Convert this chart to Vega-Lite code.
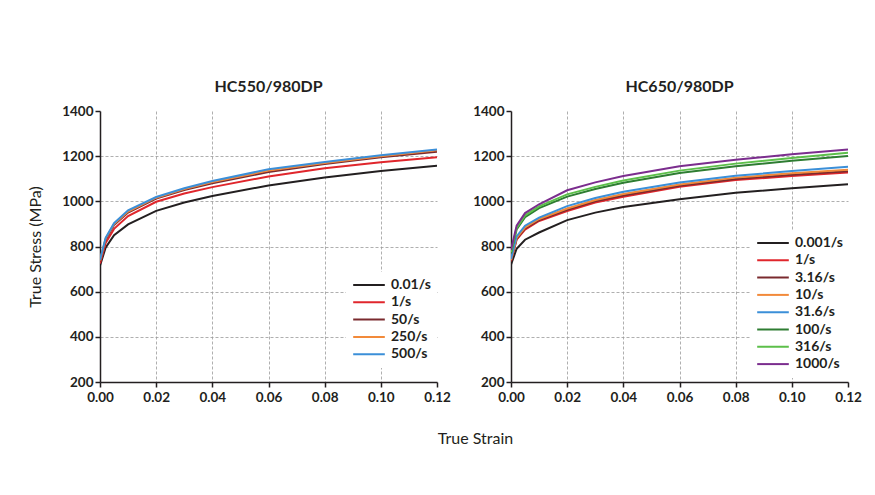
{
  "$schema": "https://vega.github.io/schema/vega-lite/v6.json",
  "background": "white",
  "padding": {"left": 27, "top": 79, "right": 20, "bottom": 10},
  "title": {"text": "True Strain", "orient": "bottom", "anchor": "middle", "font": "Lato", "fontSize": 16, "fontWeight": "normal", "color": "#231f20", "offset": 27, "dx": 31},
  "config": {
    "view": {"stroke": null},
    "axis": {"labelFont": "Lato", "labelFontWeight": "bold", "labelFontSize": 13.5, "labelColor": "#231f20", "labelFlush": false, "domainColor": "#231f20", "domainWidth": 1.5, "tickColor": "#231f20", "tickWidth": 1.5, "tickSize": 5, "gridColor": "#9a9a9a", "gridDash": [3, 2], "gridWidth": 0.8, "titleFont": "Lato", "titleFontWeight": "normal", "titleFontSize": 16, "titleColor": "#231f20"},
    "legend": {"labelFont": "Lato", "labelFontWeight": "bold", "labelFontSize": 14, "labelColor": "#231f20", "symbolType": "stroke", "symbolSize": 1000, "symbolStrokeWidth": 2, "clipHeight": 14, "rowPadding": 3.3, "labelOffset": 5, "padding": 6, "fillColor": "white", "title": null},
    "title": {"font": "Lato", "fontSize": 16, "fontWeight": "bold", "color": "#231f20", "offset": 9},
    "concat": {"spacing": 21}
  },
  "data": {"values": [
    {"p": "L", "r": "0.01/s", "s": 0, "v": 715}, {"p": "L", "r": "0.01/s", "s": 0.002, "v": 795}, {"p": "L", "r": "0.01/s", "s": 0.005, "v": 850}, {"p": "L", "r": "0.01/s", "s": 0.01, "v": 898}, {"p": "L", "r": "0.01/s", "s": 0.02, "v": 958}, {"p": "L", "r": "0.01/s", "s": 0.03, "v": 995}, {"p": "L", "r": "0.01/s", "s": 0.04, "v": 1024}, {"p": "L", "r": "0.01/s", "s": 0.06, "v": 1070}, {"p": "L", "r": "0.01/s", "s": 0.08, "v": 1106}, {"p": "L", "r": "0.01/s", "s": 0.10, "v": 1134}, {"p": "L", "r": "0.01/s", "s": 0.12, "v": 1158},
    {"p": "L", "r": "1/s", "s": 0, "v": 725}, {"p": "L", "r": "1/s", "s": 0.002, "v": 815}, {"p": "L", "r": "1/s", "s": 0.005, "v": 878}, {"p": "L", "r": "1/s", "s": 0.01, "v": 935}, {"p": "L", "r": "1/s", "s": 0.02, "v": 998}, {"p": "L", "r": "1/s", "s": 0.03, "v": 1035}, {"p": "L", "r": "1/s", "s": 0.04, "v": 1063}, {"p": "L", "r": "1/s", "s": 0.06, "v": 1110}, {"p": "L", "r": "1/s", "s": 0.08, "v": 1146}, {"p": "L", "r": "1/s", "s": 0.10, "v": 1173}, {"p": "L", "r": "1/s", "s": 0.12, "v": 1195},
    {"p": "L", "r": "50/s", "s": 0, "v": 735}, {"p": "L", "r": "50/s", "s": 0.002, "v": 830}, {"p": "L", "r": "50/s", "s": 0.005, "v": 895}, {"p": "L", "r": "50/s", "s": 0.01, "v": 950}, {"p": "L", "r": "50/s", "s": 0.02, "v": 1012}, {"p": "L", "r": "50/s", "s": 0.03, "v": 1050}, {"p": "L", "r": "50/s", "s": 0.04, "v": 1080}, {"p": "L", "r": "50/s", "s": 0.06, "v": 1130}, {"p": "L", "r": "50/s", "s": 0.08, "v": 1165}, {"p": "L", "r": "50/s", "s": 0.10, "v": 1195}, {"p": "L", "r": "50/s", "s": 0.12, "v": 1220},
    {"p": "L", "r": "250/s", "s": 0, "v": 738}, {"p": "L", "r": "250/s", "s": 0.002, "v": 835}, {"p": "L", "r": "250/s", "s": 0.005, "v": 900}, {"p": "L", "r": "250/s", "s": 0.01, "v": 955}, {"p": "L", "r": "250/s", "s": 0.02, "v": 1016}, {"p": "L", "r": "250/s", "s": 0.03, "v": 1054}, {"p": "L", "r": "250/s", "s": 0.04, "v": 1085}, {"p": "L", "r": "250/s", "s": 0.06, "v": 1136}, {"p": "L", "r": "250/s", "s": 0.08, "v": 1170}, {"p": "L", "r": "250/s", "s": 0.10, "v": 1200}, {"p": "L", "r": "250/s", "s": 0.12, "v": 1226},
    {"p": "L", "r": "500/s", "s": 0, "v": 740}, {"p": "L", "r": "500/s", "s": 0.002, "v": 838}, {"p": "L", "r": "500/s", "s": 0.005, "v": 903}, {"p": "L", "r": "500/s", "s": 0.01, "v": 960}, {"p": "L", "r": "500/s", "s": 0.02, "v": 1019}, {"p": "L", "r": "500/s", "s": 0.03, "v": 1058}, {"p": "L", "r": "500/s", "s": 0.04, "v": 1090}, {"p": "L", "r": "500/s", "s": 0.06, "v": 1142}, {"p": "L", "r": "500/s", "s": 0.08, "v": 1174}, {"p": "L", "r": "500/s", "s": 0.10, "v": 1204}, {"p": "L", "r": "500/s", "s": 0.12, "v": 1230},
    {"p": "R", "r": "0.001/s", "s": 0, "v": 720}, {"p": "R", "r": "0.001/s", "s": 0.002, "v": 790}, {"p": "R", "r": "0.001/s", "s": 0.005, "v": 830}, {"p": "R", "r": "0.001/s", "s": 0.01, "v": 862}, {"p": "R", "r": "0.001/s", "s": 0.02, "v": 917}, {"p": "R", "r": "0.001/s", "s": 0.03, "v": 950}, {"p": "R", "r": "0.001/s", "s": 0.04, "v": 975}, {"p": "R", "r": "0.001/s", "s": 0.06, "v": 1009}, {"p": "R", "r": "0.001/s", "s": 0.08, "v": 1038}, {"p": "R", "r": "0.001/s", "s": 0.10, "v": 1058}, {"p": "R", "r": "0.001/s", "s": 0.12, "v": 1076},
    {"p": "R", "r": "1/s", "s": 0, "v": 735}, {"p": "R", "r": "1/s", "s": 0.002, "v": 830}, {"p": "R", "r": "1/s", "s": 0.005, "v": 875}, {"p": "R", "r": "1/s", "s": 0.01, "v": 913}, {"p": "R", "r": "1/s", "s": 0.02, "v": 957}, {"p": "R", "r": "1/s", "s": 0.03, "v": 995}, {"p": "R", "r": "1/s", "s": 0.04, "v": 1020}, {"p": "R", "r": "1/s", "s": 0.06, "v": 1064}, {"p": "R", "r": "1/s", "s": 0.08, "v": 1094}, {"p": "R", "r": "1/s", "s": 0.10, "v": 1112}, {"p": "R", "r": "1/s", "s": 0.12, "v": 1128},
    {"p": "R", "r": "3.16/s", "s": 0, "v": 738}, {"p": "R", "r": "3.16/s", "s": 0.002, "v": 834}, {"p": "R", "r": "3.16/s", "s": 0.005, "v": 880}, {"p": "R", "r": "3.16/s", "s": 0.01, "v": 917}, {"p": "R", "r": "3.16/s", "s": 0.02, "v": 962}, {"p": "R", "r": "3.16/s", "s": 0.03, "v": 1000}, {"p": "R", "r": "3.16/s", "s": 0.04, "v": 1026}, {"p": "R", "r": "3.16/s", "s": 0.06, "v": 1069}, {"p": "R", "r": "3.16/s", "s": 0.08, "v": 1099}, {"p": "R", "r": "3.16/s", "s": 0.10, "v": 1118}, {"p": "R", "r": "3.16/s", "s": 0.12, "v": 1133},
    {"p": "R", "r": "10/s", "s": 0, "v": 740}, {"p": "R", "r": "10/s", "s": 0.002, "v": 838}, {"p": "R", "r": "10/s", "s": 0.005, "v": 885}, {"p": "R", "r": "10/s", "s": 0.01, "v": 922}, {"p": "R", "r": "10/s", "s": 0.02, "v": 968}, {"p": "R", "r": "10/s", "s": 0.03, "v": 1006}, {"p": "R", "r": "10/s", "s": 0.04, "v": 1032}, {"p": "R", "r": "10/s", "s": 0.06, "v": 1075}, {"p": "R", "r": "10/s", "s": 0.08, "v": 1105}, {"p": "R", "r": "10/s", "s": 0.10, "v": 1124}, {"p": "R", "r": "10/s", "s": 0.12, "v": 1140},
    {"p": "R", "r": "31.6/s", "s": 0, "v": 745}, {"p": "R", "r": "31.6/s", "s": 0.002, "v": 845}, {"p": "R", "r": "31.6/s", "s": 0.005, "v": 892}, {"p": "R", "r": "31.6/s", "s": 0.01, "v": 928}, {"p": "R", "r": "31.6/s", "s": 0.02, "v": 979}, {"p": "R", "r": "31.6/s", "s": 0.03, "v": 1015}, {"p": "R", "r": "31.6/s", "s": 0.04, "v": 1042}, {"p": "R", "r": "31.6/s", "s": 0.06, "v": 1083}, {"p": "R", "r": "31.6/s", "s": 0.08, "v": 1113}, {"p": "R", "r": "31.6/s", "s": 0.10, "v": 1134}, {"p": "R", "r": "31.6/s", "s": 0.12, "v": 1153},
    {"p": "R", "r": "100/s", "s": 0, "v": 770}, {"p": "R", "r": "100/s", "s": 0.002, "v": 875}, {"p": "R", "r": "100/s", "s": 0.005, "v": 930}, {"p": "R", "r": "100/s", "s": 0.01, "v": 970}, {"p": "R", "r": "100/s", "s": 0.02, "v": 1021}, {"p": "R", "r": "100/s", "s": 0.03, "v": 1055}, {"p": "R", "r": "100/s", "s": 0.04, "v": 1082}, {"p": "R", "r": "100/s", "s": 0.06, "v": 1125}, {"p": "R", "r": "100/s", "s": 0.08, "v": 1155}, {"p": "R", "r": "100/s", "s": 0.10, "v": 1180}, {"p": "R", "r": "100/s", "s": 0.12, "v": 1201},
    {"p": "R", "r": "316/s", "s": 0, "v": 775}, {"p": "R", "r": "316/s", "s": 0.002, "v": 882}, {"p": "R", "r": "316/s", "s": 0.005, "v": 938}, {"p": "R", "r": "316/s", "s": 0.01, "v": 978}, {"p": "R", "r": "316/s", "s": 0.02, "v": 1031}, {"p": "R", "r": "316/s", "s": 0.03, "v": 1064}, {"p": "R", "r": "316/s", "s": 0.04, "v": 1092}, {"p": "R", "r": "316/s", "s": 0.06, "v": 1136}, {"p": "R", "r": "316/s", "s": 0.08, "v": 1167}, {"p": "R", "r": "316/s", "s": 0.10, "v": 1192}, {"p": "R", "r": "316/s", "s": 0.12, "v": 1215},
    {"p": "R", "r": "1000/s", "s": 0, "v": 785}, {"p": "R", "r": "1000/s", "s": 0.002, "v": 892}, {"p": "R", "r": "1000/s", "s": 0.005, "v": 948}, {"p": "R", "r": "1000/s", "s": 0.01, "v": 987}, {"p": "R", "r": "1000/s", "s": 0.02, "v": 1049}, {"p": "R", "r": "1000/s", "s": 0.03, "v": 1084}, {"p": "R", "r": "1000/s", "s": 0.04, "v": 1112}, {"p": "R", "r": "1000/s", "s": 0.06, "v": 1155}, {"p": "R", "r": "1000/s", "s": 0.08, "v": 1184}, {"p": "R", "r": "1000/s", "s": 0.10, "v": 1208}, {"p": "R", "r": "1000/s", "s": 0.12, "v": 1230}
  ]},
  "resolve": {"scale": {"color": "independent"}, "legend": {"color": "independent"}},
  "hconcat": [
    {
      "title": "HC550/980DP",
      "width": 337, "height": 271,
      "transform": [{"filter": "datum.p == 'L'"}],
      "mark": {"type": "line", "strokeWidth": 2, "clip": true},
      "encoding": {
        "x": {"field": "s", "type": "quantitative", "scale": {"domain": [0, 0.12], "nice": false}, "axis": {"title": null, "values": [0, 0.02, 0.04, 0.06, 0.08, 0.1, 0.12], "format": ".2f", "labelPadding": 3, "gridOpacity": {"condition": {"test": "datum.value == 0 || datum.value >= 0.12", "value": 0}, "value": 1}}},
        "y": {"field": "v", "type": "quantitative", "scale": {"domain": [200, 1400], "nice": false}, "axis": {"title": "True Stress (MPa)", "values": [200, 400, 600, 800, 1000, 1200, 1400], "format": "d", "titlePadding": 18, "gridOpacity": {"condition": {"test": "datum.value == 200 || datum.value >= 1400", "value": 0}, "value": 1}}},
        "color": {"field": "r", "type": "nominal", "scale": {"domain": ["0.01/s", "1/s", "50/s", "250/s", "500/s"], "range": ["#231f20", "#e0262c", "#7a2a2e", "#f28a3a", "#3b8fd8"]}, "legend": {"orient": "none", "legendX": 246, "legendY": 161}},
        "order": {"field": "s", "type": "quantitative"}
      }
    },
    {
      "title": "HC650/980DP",
      "width": 337, "height": 271,
      "transform": [{"filter": "datum.p == 'R'"}],
      "mark": {"type": "line", "strokeWidth": 2, "clip": true},
      "encoding": {
        "x": {"field": "s", "type": "quantitative", "scale": {"domain": [0, 0.12], "nice": false}, "axis": {"title": null, "values": [0, 0.02, 0.04, 0.06, 0.08, 0.1, 0.12], "format": ".2f", "labelPadding": 3, "gridOpacity": {"condition": {"test": "datum.value == 0 || datum.value >= 0.12", "value": 0}, "value": 1}}},
        "y": {"field": "v", "type": "quantitative", "scale": {"domain": [200, 1400], "nice": false}, "axis": {"title": null, "values": [200, 400, 600, 800, 1000, 1200, 1400], "format": "d", "gridOpacity": {"condition": {"test": "datum.value == 200 || datum.value >= 1400", "value": 0}, "value": 1}}},
        "color": {"field": "r", "type": "nominal", "scale": {"domain": ["0.001/s", "1/s", "3.16/s", "10/s", "31.6/s", "100/s", "316/s", "1000/s"], "range": ["#231f20", "#e0262c", "#7a2a2e", "#f28a3a", "#3b8fd8", "#2e7d32", "#5cbf4a", "#7b2d8e"]}, "legend": {"orient": "none", "legendX": 239, "legendY": 119}},
        "order": {"field": "s", "type": "quantitative"}
      }
    }
  ]
}
